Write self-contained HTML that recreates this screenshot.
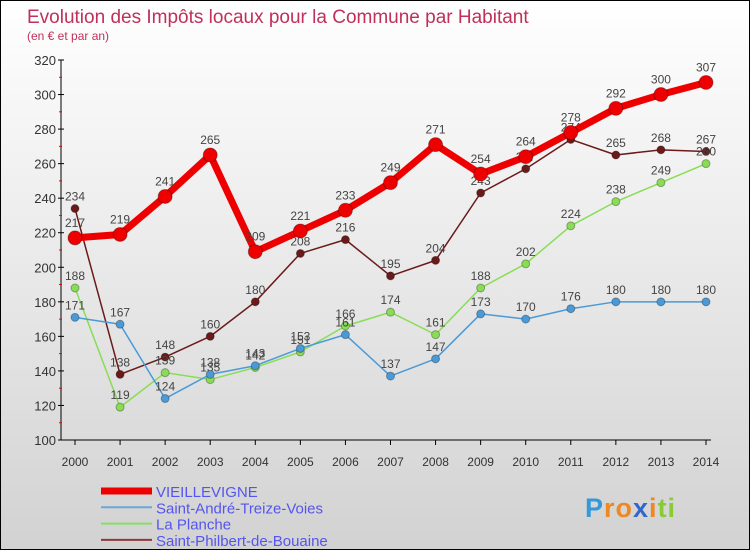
<!DOCTYPE html>
<html><head><meta charset="utf-8"><style>
html,body{margin:0;padding:0}
body{width:750px;height:550px;overflow:hidden;font-family:"Liberation Sans",sans-serif}
#wrap{position:absolute;left:0;top:0;width:748px;height:548px;border:1px solid #000;background:linear-gradient(#ffffff,#d2d2d2)}
</style></head><body>
<div id="wrap">
<svg id="chart" width="748" height="548" style="position:absolute;left:0;top:0"></svg>
</div>
<script>
const years=[2000,2001,2002,2003,2004,2005,2006,2007,2008,2009,2010,2011,2012,2013,2014];
const vieillevigne=[217,219,241,265,209,221,233,249,271,254,264,278,292,300,307];
const saintAndre=[171,167,124,138,143,153,161,137,147,173,170,176,180,180,180];
const laPlanche=[188,119,139,135,142,151,166,174,161,188,202,224,238,249,260];
const saintPhilbert=[234,138,148,160,180,208,216,195,204,243,257,274,265,268,267];
const yTicks=[100,120,140,160,180,200,220,240,260,280,300,320];
const seriesNames=["VIEILLEVIGNE","Saint-André-Treize-Voies","La Planche","Saint-Philbert-de-Bouaine"];
const NS="http://www.w3.org/2000/svg";
const svg=document.getElementById('chart');
const ox=-1,oy=-1;
function xs(i){return 75+i*(706-75)/(years.length-1)+ox;}
function ys(v){return 440-(v-100)*(380/220)+oy;}
function el(t,a,p){const e=document.createElementNS(NS,t);for(const k in a)e.setAttribute(k,a[k]);(p||svg).appendChild(e);return e;}
let t=el('text',{x:26,y:22,'font-size':19,fill:'#c0305a'});t.textContent='Evolution des Impôts locaux pour la Commune par Habitant';

t=el('text',{x:26,y:39,'font-size':12,fill:'#c0305a'});t.textContent='(en € et par an)';

// axes
let a=el('line',{x1:61+ox,y1:ys(320),x2:61+ox,y2:ys(100),stroke:'#000'});

a=el('line',{x1:61+ox,y1:ys(100),x2:xs(14)+5,y2:ys(100),stroke:'#000'});

yTicks.forEach((v,i)=>{
  el('line',{x1:58+ox,x2:64+ox,y1:ys(v),y2:ys(v),stroke:'#000'});
  if(i<yTicks.length-1){const m=el('line',{x1:59+ox,x2:62+ox,y1:ys(v+10),y2:ys(v+10),stroke:'#e00'});}
  const l=el('text',{x:56+ox,y:ys(v)+5,'font-size':13,fill:'#333','text-anchor':'end'});l.textContent=v;
  
});
years.forEach((y,i)=>{
  el('line',{x1:xs(i),x2:xs(i),y1:ys(100),y2:ys(100)+5,stroke:'#000'});
  const l=el('text',{x:xs(i),y:ys(100)+26,'font-size':12,fill:'#333','text-anchor':'middle'});l.textContent=y;
  
});
function series(data,color,w,r,name){
  const g=el('g',{});
  
  el('polyline',{points:data.map((v,i)=>xs(i)+','+ys(v)).join(' '),fill:'none',stroke:color,'stroke-width':w,'stroke-linejoin':'round'},g);
  data.forEach((v,i)=>{
    const c=el('circle',{cx:xs(i),cy:ys(v),r:r,fill:color,stroke:'rgba(0,0,0,0.3)','stroke-width':1},g);
    
    const l=el('text',{x:xs(i),y:ys(v)-r-4,'font-size':12,fill:'#444','text-anchor':'middle'},g);l.textContent=v;
  });
}
series(saintPhilbert,'#6b1a1a',1.5,4,'series-saint-philbert');
series(laPlanche,'#88dd55',1.5,4,'series-la-planche');
series(saintAndre,'#4a9ad8',1.5,4,'series-saint-andre');
series(vieillevigne,'#ee0000',7,7,'series-vieillevigne');
// legend
const lc=['#ee0000','#6aa8d8','#88dd66','#8b3a3a'],lw=[7,2,2,2];
seriesNames.forEach((n,i)=>{
  const y=490+i*16.3;
  const g=el('g',{});
  el('line',{x1:100,x2:151,y1:y,y2:y,stroke:lc[i],'stroke-width':lw[i]},g);
  const l=el('text',{x:155,y:y+6,'font-size':15,fill:'#5555ee'},g);l.textContent=n;
});
// logo
const lg=el('text',{x:584,y:516,'font-size':27,'font-weight':'bold','letter-spacing':'1'});

[['P','#3399dd'],['ro','#ee8822'],['x','#3366cc'],['i','#ee8822'],['ti','#88cc33']].forEach(([s,c])=>{const ts=el('tspan',{fill:c},lg);ts.textContent=s;});
</script>
</body></html>
